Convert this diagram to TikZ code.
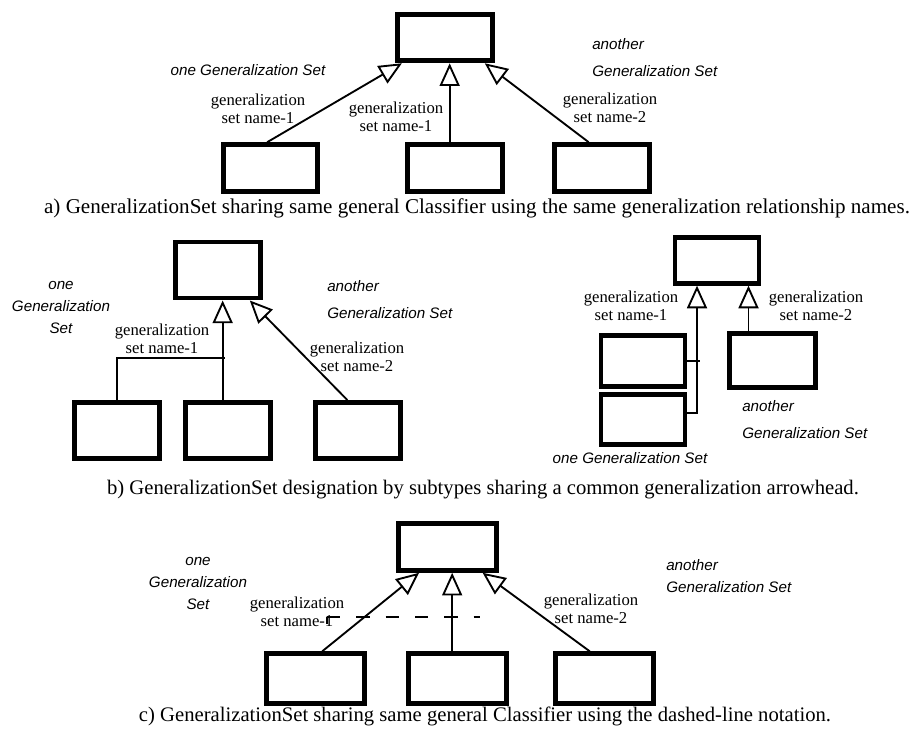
\documentclass[tikz,border=0pt]{standalone}
\usepackage{fontspec}
\setmainfont{Liberation Serif}
\newfontfamily\gsfont{Liberation Sans}
\usetikzlibrary{arrows.meta}

\newcommand{\namefont}{\fontsize{12.5}{13.5}\selectfont}
\newcommand{\setfont}{\gsfont\itshape\fontsize{11.4}{16.5}\selectfont}
\newcommand{\capfont}{\fontsize{15.5}{17}\selectfont}

\begin{document}
\begin{tikzpicture}[x=0.75pt, y=-0.75pt,
                every node/.style={inner sep=0pt},
                box/.style={draw, line width=3.7pt},
                boxa/.style={box, minimum width=71pt, minimum height=35pt},
                boxb/.style={box, minimum width=64pt, minimum height=42pt},
                boxr/.style={box, minimum width=63pt, minimum height=38pt},
                boxc/.style={box, minimum width=73pt, minimum height=37pt},
                gen/.style={-{Triangle[open, length=17pt, width=15pt]}, line width=1.4pt},
                link/.style={line width=1.4pt},
                setname/.style={align=center, font=\namefont},
                gset/.style={align=center, font=\setfont},
                caption/.style={font=\capfont}]
                
                \useasboundingbox (0,0) rectangle (918,729);
                
                % a) same names
                \node[boxa] (aT) at (445,37.5) {};
                \node[boxa] (a1) at (270.5,168) {};
                \node[boxa] (a2) at (455,168) {};
                \node[boxa] (a3) at (602,168) {};
                \draw[gen] ([xshift=-2.5pt]a1.north) -- ([xshift=5pt]aT.south west);
                \draw[gen] ([xshift=-4pt]a2.north) -- ([xshift=-4pt]a2.north |- aT.south);
                \draw[gen] ([xshift=-10pt]a3.north) -- ([xshift=-7.5pt]aT.south east);
                \node[gset] (aOne) at (248,70) {one Generalization Set};
                \node[gset, align=left, anchor=west] (aAno) at (592,57.5) {another\\[3.5pt]Generalization Set};
                \node[setname] (aN1) at (258,109) {generalization\\set name-1};
                \node[setname] (aN2) at (396,117) {generalization\\set name-1};
                \node[setname] (aN3) at (610,108) {generalization\\set name-2};
                \node[caption, font=\fontsize{15.8}{17}\selectfont] (capA) at (477,208) {a) GeneralizationSet sharing same general Classifier using the same generalization relationship names.};
                
                % b) shared arrowhead, tree style
                \node[boxb] (bT) at (218,270) {};
                \node[boxb] (b1) at (117,430.5) {};
                \node[boxb] (b2) at (228,430.5) {};
                \node[boxb] (b3) at (358,430.5) {};
                \coordinate (bj) at (225,358);
                \draw[gen] ([xshift=-4pt]b2.north) -- ([xshift=-4pt]b2.north |- bT.south);
                \draw[link] (b1.north) |- (bj);
                \draw[gen] ([xshift=-8pt]b3.north) -- ([xshift=-10pt]bT.south east);
                \node[gset] (bOne) at (61,307) {one\\Generalization\\Set};
                \node[gset, align=left, anchor=west] (bAno) at (327,299.5) {another\\[3.5pt]Generalization Set};
                \node[setname] (bN1) at (162,339) {generalization\\set name-1};
                \node[setname] (bN2) at (357,357) {generalization\\set name-2};
                
                % b) shared arrowhead, side style
                \node[boxr, minimum height=34pt] (rT) at (717,260.5) {};
                \node[boxr] (r1) at (643,361) {};
                \node[boxr, minimum height=37pt] (r2) at (643,419.5) {};
                \node[boxr, minimum height=41pt, minimum width=65pt] (r3) at (772.5,360.5) {};
                \coordinate (rj) at (697,413);
                \draw[gen] (r2.east |- rj) -| (rj |- rT.south);
                \draw[link] (r1.east) -- ([xshift=2pt]r1.east -| rj);
                \draw[gen] ([xshift=-18pt]r3.north) -- ([xshift=-18pt]r3.north |- rT.south);
                \node[setname] (rN1) at (631,306) {generalization\\set name-1};
                \node[setname] (rN2) at (816,306) {generalization\\set name-2};
                \node[gset, align=left, anchor=west] (rAno) at (742,419.5) {another\\[3.5pt]Generalization Set};
                \node[gset] (rOne) at (630,458) {one Generalization Set};
                \node[caption] (capB) at (483,490) {b) GeneralizationSet designation by subtypes sharing a common generalization arrowhead.};
                
                % c) dashed line
                \node[boxc, minimum height=35pt] (cT) at (447.5,547) {};
                \node[boxc] (c1) at (315.5,678.5) {};
                \node[boxc] (c2) at (457.5,678.5) {};
                \node[boxc] (c3) at (604.5,678.5) {};
                \draw[gen] ([xshift=5pt]c1.north) -- ([xshift=17pt]cT.south west);
                \draw[gen] ([xshift=-4pt]c2.north) -- ([xshift=-4pt]c2.north |- cT.south);
                \draw[gen] ([xshift=-11pt]c3.north) -- ([xshift=-12pt]cT.south east);
                \coordinate (cd1) at (327,617);
                \coordinate (cd2) at (480,617);
                \draw[link, dash pattern=on 10pt off 12pt] (cd1) -- (cd2);
                \draw[link] (cd1) -- ++(0,7);
                \node[gset] (cOne) at (198,583) {one\\Generalization\\Set};
                \node[gset, align=left, anchor=west] (cAno) at (666,576.5) {another\\Generalization Set};
                \node[setname] (cN1) at (297,612) {generalization\\set name-1};
                \node[setname] (cN2) at (591,609) {generalization\\set name-2};
                \node[caption] (capC) at (485,716) {c) GeneralizationSet sharing same general Classifier using the dashed-line notation.};
            \end{tikzpicture}
\end{document}
